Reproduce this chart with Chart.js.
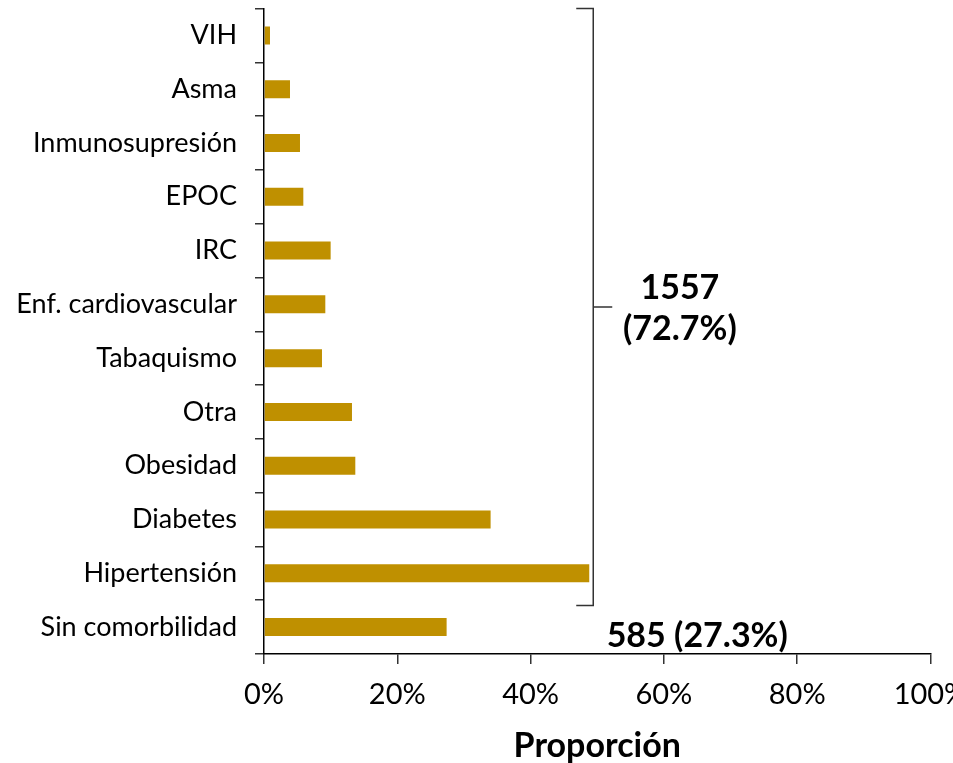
<!DOCTYPE html>
<html lang="es">
<head>
    <meta charset="UTF-8">
    <title>Comorbilidades</title>
    <script src="https://cdn.jsdelivr.net/npm/chart.js"></script>
    <style>
        body {
            margin: 0;
            background: white;
            overflow: hidden;
        }
        #wrap {
            width: 990px;
            height: 763px;
        }
    </style>
</head>
<body>
    <div id="wrap">
        <canvas id="comorbChart" width="990" height="763"></canvas>
    </div>

    <script>
        const categories = ["VIH", "Asma", "Inmunosupresión", "EPOC", "IRC", "Enf. cardiovascular",
            "Tabaquismo", "Otra", "Obesidad", "Diabetes", "Hipertensión", "Sin comorbilidad"];
        const proportion = [0.9, 3.9, 5.4, 5.9, 10.0, 9.2, 8.7, 13.2, 13.7, 34.0, 48.8, 27.4];
        const xTicks = [0, 20, 40, 60, 80, 100];
        const groupWith = ["1557", "(72.7%)"];
        const groupWithout = "585 (27.3%)";

        const fontFamily = "Lato, 'Noto Sans', sans-serif";
        const barColor = "#BF9000";

        // bracket + group totals drawn on top of the chart
        const bracketPlugin = {
            id: "bracket",
            afterDraw(chart) {
                const ctx = chart.ctx;
                const x = chart.scales.x;
                const y = chart.scales.y;
                const bx = x.getPixelForValue(49.4);
                const top = y.getPixelForValue(-0.5);
                const bottom = y.getPixelForValue(10.6);
                const mid = (top + bottom) / 2;

                ctx.save();
                ctx.strokeStyle = "#333";
                ctx.lineWidth = 1.5;
                ctx.beginPath();
                ctx.moveTo(bx - 17, top);
                ctx.lineTo(bx, top);
                ctx.lineTo(bx, bottom);
                ctx.lineTo(bx - 17, bottom);
                ctx.moveTo(bx, mid);
                ctx.lineTo(bx + 19, mid);
                ctx.stroke();

                ctx.fillStyle = "#000";
                ctx.font = "bold 34px " + fontFamily;
                ctx.textAlign = "center";
                ctx.textBaseline = "middle";
                const tx = x.getPixelForValue(62.4);
                ctx.fillText(groupWith[0], tx, mid - 19);
                ctx.fillText(groupWith[1], tx, mid + 22);
                ctx.fillText(groupWithout, x.getPixelForValue(65), y.getPixelForValue(11.17));
                ctx.restore();
            }
        };

        new Chart(document.getElementById("comorbChart"), {
            type: "bar",
            data: {
                labels: categories,
                datasets: [{
                    data: proportion,
                    backgroundColor: barColor,
                    borderWidth: 0,
                    barPercentage: 0.335,
                    categoryPercentage: 1
                }]
            },
            options: {
                indexAxis: "y",
                responsive: false,
                animation: false,
                layout: {
                    padding: { left: 0, right: 59.5, top: 8.5, bottom: 0 }
                },
                plugins: {
                    legend: { display: false },
                    tooltip: { enabled: false }
                },
                scales: {
                    x: {
                        min: 0,
                        max: 100,
                        afterFit: s => { s.height = 109; },
                        afterBuildTicks: s => { s.ticks = xTicks.map(v => ({ value: v })); },
                        border: { color: "#000", width: 1.5 },
                        grid: {
                            drawOnChartArea: false,
                            tickLength: 10,
                            color: "#333",
                            lineWidth: 1.5
                        },
                        ticks: {
                            color: "#000",
                            padding: 13,
                            maxRotation: 0,
                            font: { family: fontFamily, size: 29 },
                            callback: v => v + "%"
                        },
                        title: {
                            display: true,
                            text: "Proporción",
                            color: "#000",
                            padding: 0,
                            font: { family: fontFamily, size: 34, weight: "bold", lineHeight: 1 }
                        }
                    },
                    y: {
                        afterFit: s => {
                            s.width = 264;
                            s.paddingTop = 0;
                            s.paddingBottom = 0;
                        },
                        border: { color: "#000", width: 1.5 },
                        grid: {
                            drawOnChartArea: false,
                            offset: true,
                            tickLength: 9,
                            color: "#333",
                            lineWidth: 1.5
                        },
                        ticks: {
                            color: "#000",
                            padding: 18,
                            font: { family: fontFamily, size: 27 }
                        }
                    }
                }
            },
            plugins: [bracketPlugin]
        });
    </script>
</body>
</html>
